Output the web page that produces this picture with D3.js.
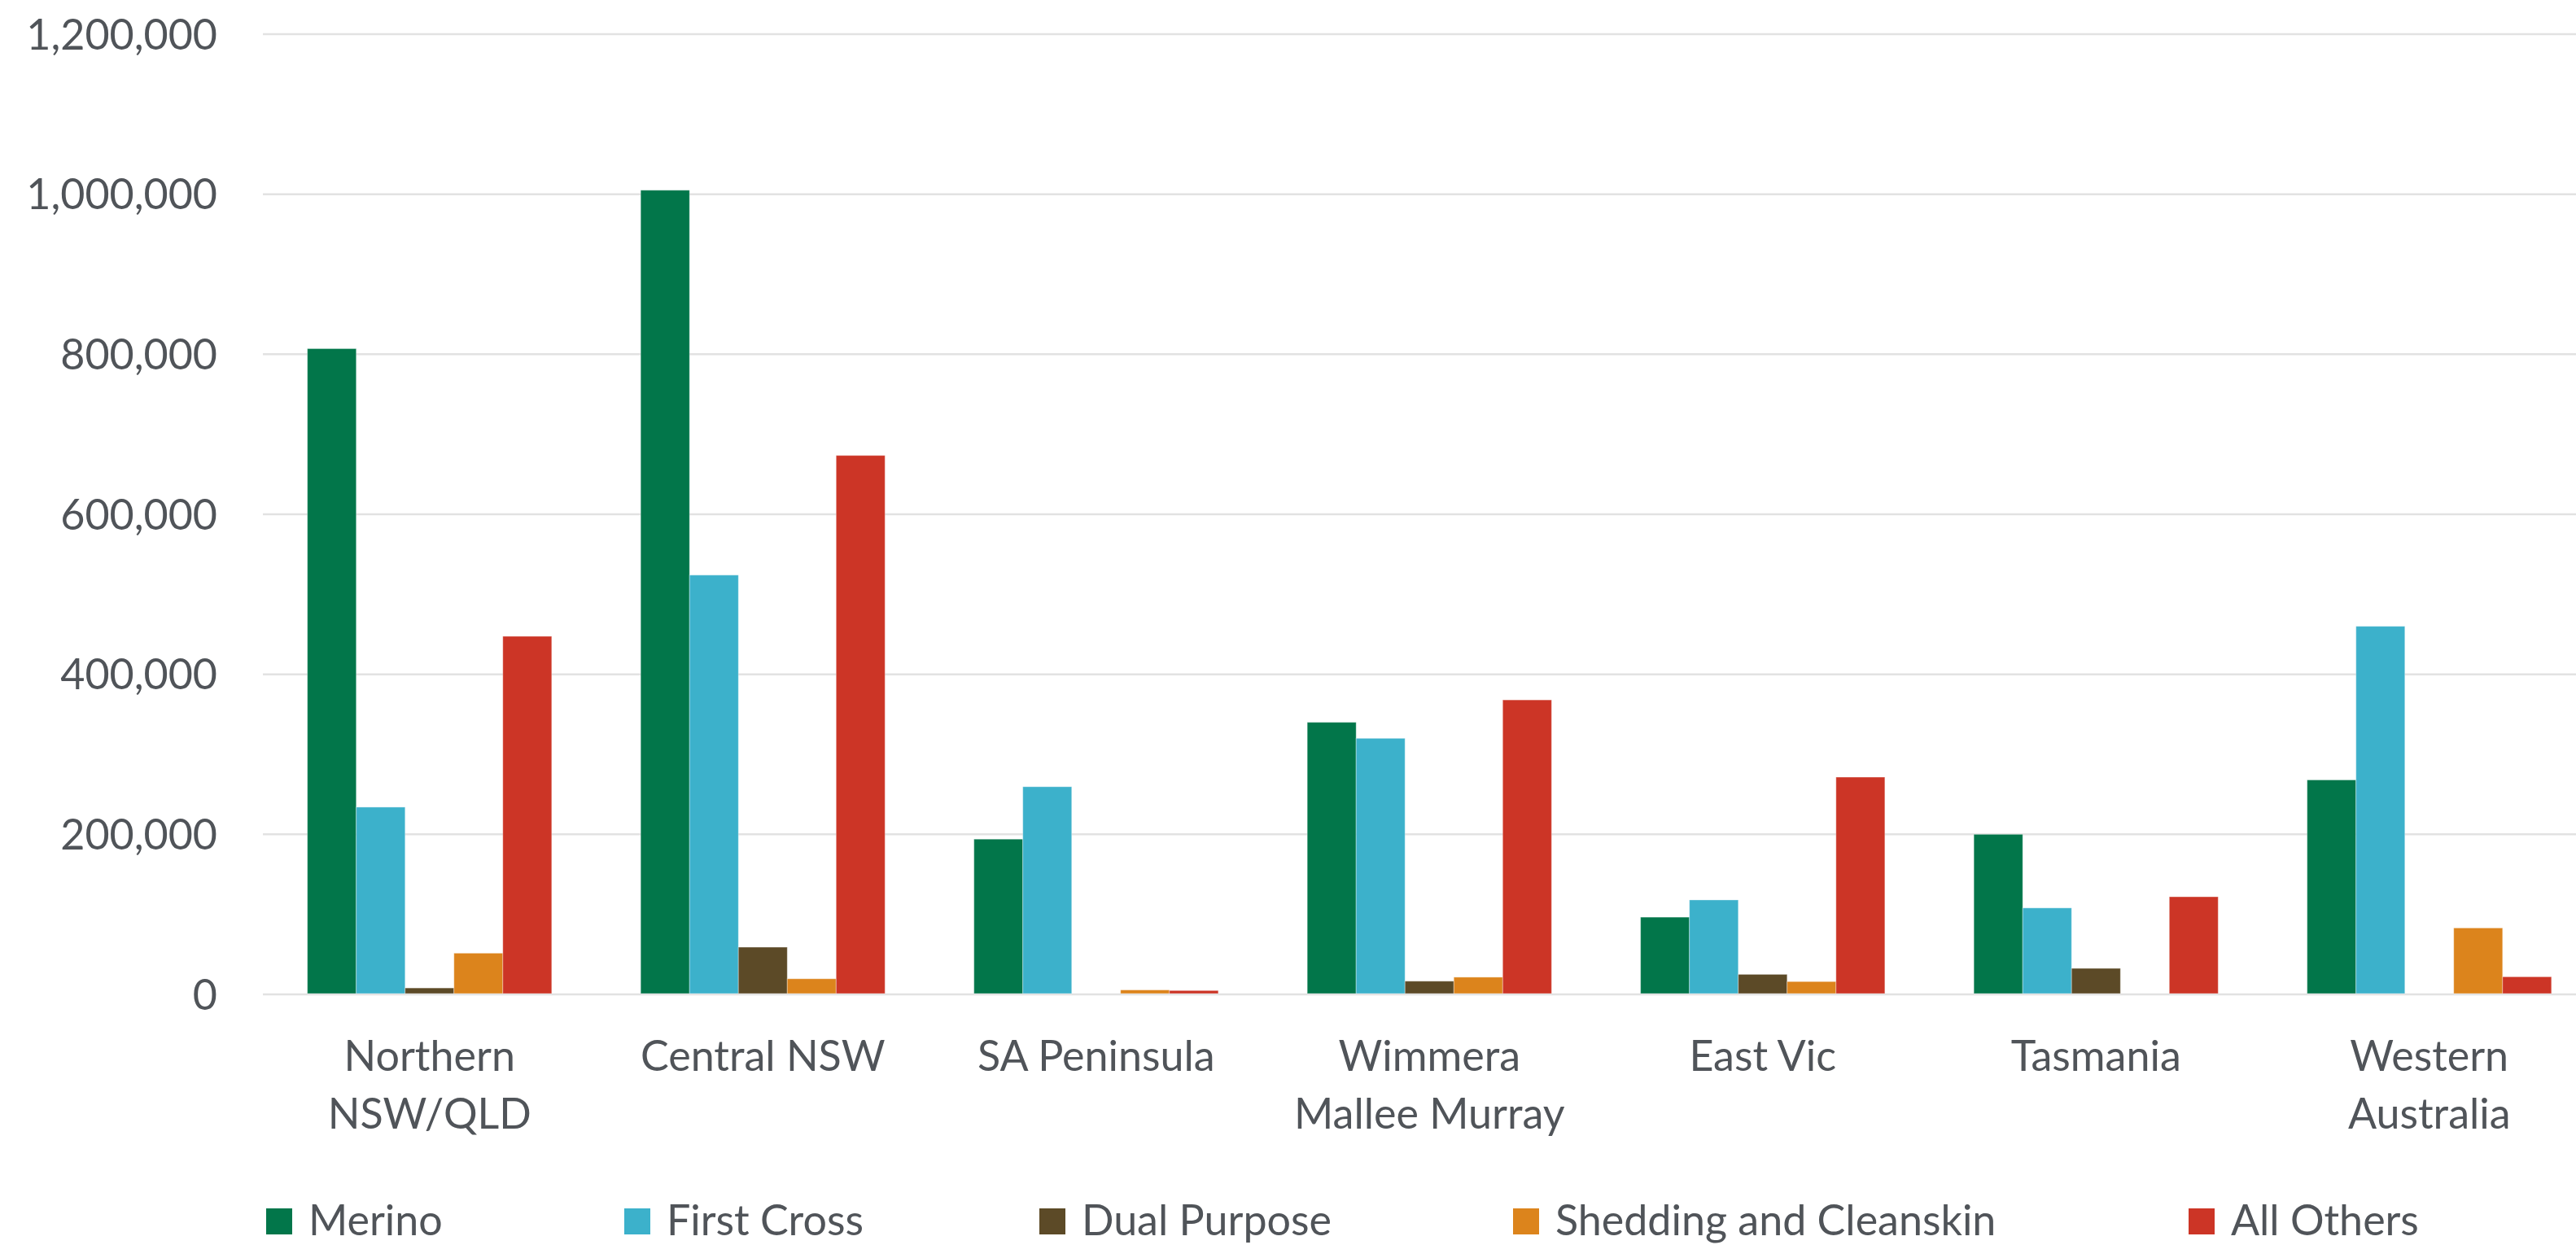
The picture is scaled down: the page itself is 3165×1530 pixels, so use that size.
<!DOCTYPE html>
<html>
<head>
<meta charset="utf-8">
<script src="https://cdn.jsdelivr.net/npm/d3@7/dist/d3.min.js"></script>
<style>
  html, body { margin: 0; padding: 0; background: #ffffff; }
  svg { display: block; }
  text { font-family: Lato, "Liberation Sans", sans-serif; fill: #505459; }
</style>
</head>
<body>
<svg id="chart" width="3165" height="1530"></svg>
<script>
// ---- data ----
const categories = [
  ["Northern", "NSW/QLD"],
  ["Central NSW"],
  ["SA Peninsula"],
  ["Wimmera", "Mallee Murray"],
  ["East Vic"],
  ["Tasmania"],
  ["Western", "Australia"]
];
const seriesNames = ["Merino", "First Cross", "Dual Purpose", "Shedding and Cleanskin", "All Others"];
const merino      = [807000, 1005000, 194000, 340000, 96500, 200000, 268000];
const firstCross  = [234000, 524000, 259500, 320000, 118000, 108000, 460000];
const dualPurpose = [8000, 59000, 0, 16500, 25000, 32500, 0];
const shedding    = [51500, 19500, 5500, 21500, 16000, 0, 83000];
const allOthers   = [447500, 673500, 4800, 368000, 271500, 122000, 22000];
const yTicks = [0, 200000, 400000, 600000, 800000, 1000000, 1200000];

// ---- style / layout ----
const colors = ["#02764A", "#3CB1CB", "#5C4A27", "#DC841C", "#CC3526"];
const seriesValues = [merino, firstCross, dualPurpose, shedding, allOthers];
const plot = { left: 323, right: 3189.5, top: 42, bottom: 1222 };
const legendX = [327, 767, 1277, 1859, 2689];
const fontSize = 52;

const svg = d3.select("#chart");
const catKeys = categories.map(c => c.join(" "));

const x = d3.scaleBand().domain(catKeys).range([plot.left, plot.right])
  .paddingInner(0.267).paddingOuter(0.1335);
const xs = d3.scaleBand().domain(seriesNames).range([0, x.bandwidth()]).padding(0);
const y = d3.scaleLinear().domain([0, 1200000]).range([plot.bottom, plot.top]);

// gridlines
svg.append("g").selectAll("line").data(yTicks).join("line")
  .attr("x1", plot.left).attr("x2", 3165)
  .attr("y1", d => y(d)).attr("y2", d => y(d))
  .attr("stroke", "#E2E2E2").attr("stroke-width", 2.5);

// y axis labels
const fmt = d3.format(",");
svg.append("g").selectAll("text").data(yTicks).join("text")
  .attr("x", 267).attr("y", d => y(d) + 18.5)
  .attr("text-anchor", "end")
  .style("font-size", fontSize + "px")
  .text(d => fmt(d));

// bars
const groups = svg.append("g").selectAll("g").data(catKeys).join("g")
  .attr("transform", d => `translate(${x(d)},0)`);
groups.selectAll("rect")
  .data((d, i) => seriesNames.map((s, j) => ({ s, j, v: seriesValues[j][i] })).filter(e => e.v > 0))
  .join("rect")
  .attr("x", e => xs(e.s))
  .attr("width", xs.bandwidth())
  .attr("y", e => y(e.v))
  .attr("height", e => y(0) - y(e.v) - 1)
  .attr("fill", e => colors[e.j])
  .attr("stroke", "#ffffff").attr("stroke-opacity", 0.35).attr("stroke-width", 1);

// x axis labels
const xl = svg.append("g").selectAll("text").data(categories).join("text")
  .attr("text-anchor", "middle")
  .attr("x", (d, i) => x(catKeys[i]) + x.bandwidth() / 2)
  .attr("y", 1316)
  .style("font-size", fontSize + "px");
xl.selectAll("tspan").data(d => d).join("tspan")
  .attr("x", function () { return d3.select(this.parentNode).attr("x"); })
  .attr("dy", (d, i) => i === 0 ? 0 : 71)
  .text(d => d);

// legend
const lg = svg.append("g").selectAll("g").data(seriesNames).join("g")
  .attr("transform", (d, i) => `translate(${legendX[i]},1485)`);
lg.append("rect").attr("width", 32).attr("height", 32).attr("fill", (d, i) => colors[i]);
lg.append("text").attr("x", 52).attr("y", 32.5)
  .style("font-size", fontSize + "px").text(d => d);
</script>
</body>
</html>
